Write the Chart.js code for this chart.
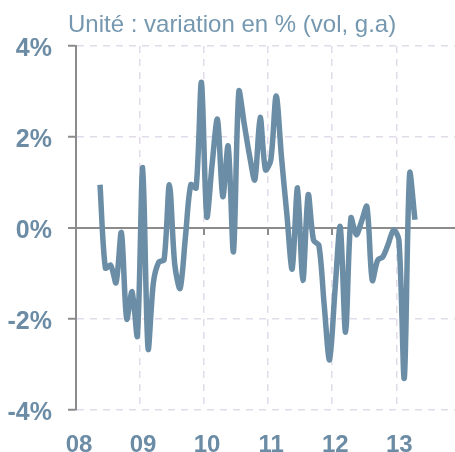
<!DOCTYPE html>
<html>
<head>
<meta charset="utf-8">
<script src="https://cdn.jsdelivr.net/npm/chart.js@4"></script>
<style>
  body { margin: 0; background: #fff; }
  #wrap { position: relative; width: 455px; height: 452px; }
  #title {
    position: absolute; left: 68px; top: 10px;
    font: 24px "Liberation Sans", Arial, sans-serif;
    color: #7598b0; white-space: nowrap;
  }
</style>
</head>
<body>
<div id="wrap">
  <canvas id="chart" width="455" height="452"></canvas>
  <div id="title">Unité : variation en % (vol, g.a)</div>
</div>
<script>
// monthly series, May 2008 -> April 2013 (x = months since Jan 2008)
const startMonth = 4.5;
const growth = [
  0.95, -0.88, -0.82, -1.2, -0.1, -2.0, -1.4, -2.37,
  1.33, -2.65, -1.2, -0.75, -0.7, 0.95, -0.8, -1.33, -0.2, 0.95, 0.88, 3.2,
  0.25, 1.4, 2.39, 0.69, 1.8, -0.52, 3.0, 2.3, 1.6, 1.06, 2.43, 1.28,
  1.5, 2.9, 1.55, 0.3, -0.9, 0.88, -1.15, 0.73, -0.27, -0.38, -1.7, -2.9,
  -1.4, 0.03, -2.29, 0.22, -0.15, 0.15, 0.47, -1.15, -0.71, -0.63, -0.35, -0.04,
  -0.27, -3.3, 1.2, 0.18
];
const yearTicks = [0, 12, 24, 36, 48, 60];
const yearLabels = ["08", "09", "10", "11", "12", "13"];
const yTicks = [-4, -2, 0, 2, 4];

const lineColor = "#6b8ea6";
const labelColor = "#6b8ca4";
const axisGray = "#8c8c8c";
const gridColor = "#e2dbe9";

const points = growth.map((v, i) => ({ x: startMonth + i, y: v }));

// small ticks hanging from the zero line at each year
const zeroTicks = {
  id: "zeroTicks",
  beforeDatasetsDraw(chart) {
    const { ctx, scales: { x, y } } = chart;
    const y0 = y.getPixelForValue(0);
    ctx.save();
    ctx.strokeStyle = axisGray;
    ctx.lineWidth = 2;
    x.ticks.forEach(t => {
      if (t.value === 0) return;
      const px = Math.round(x.getPixelForValue(t.value));
      ctx.beginPath();
      ctx.moveTo(px, y0);
      ctx.lineTo(px, y0 + 7);
      ctx.stroke();
    });
    ctx.restore();
  }
};

new Chart(document.getElementById("chart"), {
  type: "line",
  data: {
    datasets: [{
      data: points,
      borderColor: lineColor,
      borderWidth: 5.5,
      tension: 0.3,
      pointRadius: 0,
      fill: false
    }]
  },
  options: {
    responsive: false,
    animation: false,
    layout: { padding: { top: 46, right: 0, bottom: 0, left: 0 } },
    plugins: { legend: { display: false }, tooltip: { enabled: false } },
    scales: {
      x: {
        type: "linear",
        min: 0,
        max: 71,
        afterBuildTicks: s => { s.ticks = yearTicks.map(v => ({ value: v })); },
        afterFit: s => { s.height = 42; },
        grid: {
          color: c => (c.tick && c.tick.value === 0) ? "rgba(0,0,0,0)" : gridColor,
          lineWidth: 1.5,
          drawTicks: false
        },
        border: { display: false, dash: [7, 6] },
        ticks: {
          padding: 21,
          labelOffset: 3,
          color: labelColor,
          autoSkip: false,
          maxRotation: 0,
          font: { family: "'Liberation Sans', Arial, sans-serif", size: 24, weight: "bold" },
          callback: v => yearLabels[yearTicks.indexOf(v)]
        }
      },
      y: {
        min: -4,
        max: 4,
        afterBuildTicks: s => { s.ticks = yTicks.map(v => ({ value: v })); },
        afterFit: s => { s.width = 76; },
        grid: {
          color: c => (c.tick && c.tick.value === 0) ? axisGray : gridColor,
          lineWidth: c => (c.tick && c.tick.value === 0) ? 2 : 1.5,
          tickLength: 8,
          tickColor: axisGray,
          tickWidth: 2
        },
        border: {
          display: true,
          color: axisGray,
          width: 2,
          dash: c => (c.type === "tick" && c.tick && c.tick.value !== 0) ? [7, 6] : []
        },
        ticks: {
          padding: 16,
          labelOffset: 3,
          color: labelColor,
          font: { family: "'Liberation Sans', Arial, sans-serif", size: 25, weight: "bold" },
          callback: v => v + "%"
        }
      }
    }
  },
  plugins: [zeroTicks]
});
</script>
</body>
</html>
